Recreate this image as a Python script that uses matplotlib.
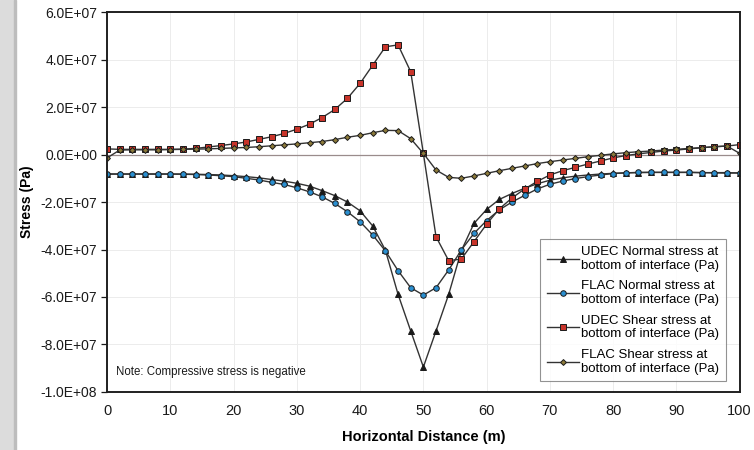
"""Stress along the bottom of the interface: UDEC vs FLAC."""

import numpy as np
import matplotlib
matplotlib.use("Agg")
import matplotlib.pyplot as plt
from matplotlib.patches import Rectangle
from matplotlib.ticker import FuncFormatter, MultipleLocator

plt.rcParams["font.family"] = ["Liberation Sans", "DejaVu Sans"]

# horizontal distance (m), one sample every 2 m
distance = np.arange(0, 101, 2)

# stresses in units of 1e7 Pa
udec_normal = [
    -0.82, -0.82, -0.82, -0.82, -0.82, -0.82, -0.82, -0.83, -0.84, -0.86,
    -0.89, -0.93, -0.98, -1.05, -1.12, -1.21, -1.33, -1.52, -1.73, -2.00,
    -2.37, -3.01, -4.03, -5.89, -7.43, -8.95, -7.43, -5.89, -4.05, -2.90,
    -2.31, -1.89, -1.64, -1.42, -1.23, -1.08, -0.98, -0.91, -0.86, -0.82,
    -0.79, -0.77, -0.76, -0.75, -0.75, -0.75, -0.75, -0.76, -0.76, -0.76,
    -0.78,
]
flac_normal = [
    -0.82, -0.82, -0.82, -0.82, -0.82, -0.82, -0.83, -0.84, -0.86, -0.89,
    -0.93, -1.00, -1.07, -1.17, -1.26, -1.40, -1.57, -1.78, -2.06, -2.41,
    -2.83, -3.39, -4.06, -4.89, -5.61, -5.92, -5.61, -4.86, -4.02, -3.32,
    -2.78, -2.33, -2.00, -1.72, -1.45, -1.25, -1.12, -1.01, -0.93, -0.86,
    -0.80, -0.77, -0.75, -0.75, -0.75, -0.75, -0.75, -0.76, -0.77, -0.78,
    -0.77,
]
udec_shear = [
    0.24, 0.22, 0.22, 0.22, 0.22, 0.22, 0.23, 0.26, 0.32, 0.38,
    0.45, 0.53, 0.64, 0.75, 0.89, 1.07, 1.28, 1.56, 1.90, 2.37,
    3.00, 3.77, 4.54, 4.62, 3.49, 0.05, -3.46, -4.47, -4.40, -3.67,
    -2.93, -2.29, -1.83, -1.45, -1.13, -0.86, -0.68, -0.54, -0.40, -0.27,
    -0.14, -0.04, 0.03, 0.09, 0.15, 0.19, 0.24, 0.29, 0.33, 0.36,
    0.42,
]
flac_shear = [
    -0.14, 0.19, 0.20, 0.20, 0.20, 0.21, 0.22, 0.23, 0.24, 0.26,
    0.28, 0.30, 0.33, 0.37, 0.41, 0.45, 0.50, 0.55, 0.63, 0.73,
    0.81, 0.92, 1.02, 1.01, 0.67, 0.05, -0.65, -0.96, -1.00, -0.90,
    -0.79, -0.68, -0.58, -0.48, -0.38, -0.30, -0.23, -0.16, -0.09, -0.03,
    0.03, 0.08, 0.12, 0.15, 0.19, 0.22, 0.26, 0.29, 0.33, 0.36,
    0.05,
]

labels = [
    "UDEC Normal stress at\nbottom of interface (Pa)",
    "FLAC Normal stress at\nbottom of interface (Pa)",
    "UDEC Shear stress at\nbottom of interface (Pa)",
    "FLAC Shear stress at\nbottom of interface (Pa)",
]

fig = plt.figure(figsize=(7.54, 4.5), dpi=100)
# scanned page edge on the left
fig.patches.append(Rectangle((0, 0), 0.018, 1, transform=fig.transFigure,
                             color="#dcdcdc", zorder=0))
fig.patches.append(Rectangle((0.018, 0), 0.003, 1, transform=fig.transFigure,
                             color="#bdbdbd", zorder=0))

ax = fig.add_axes([0.142, 0.129, 0.839, 0.844])

line_kw = dict(color="#333333", lw=1.0, markeredgecolor="#1a1a1a",
               markeredgewidth=0.7)
scale = 1e7
ax.plot(distance, np.array(udec_normal) * scale, marker="^", ms=4.0,
        markerfacecolor="#1a1a1a", label=labels[0], **line_kw)
ax.plot(distance, np.array(flac_normal) * scale, marker="o", ms=4.0,
        markerfacecolor="#2a8fd0", label=labels[1], **line_kw)
ax.plot(distance, np.array(udec_shear) * scale, marker="s", ms=4.3,
        markerfacecolor="#c8342a", label=labels[2], **line_kw)
ax.plot(distance, np.array(flac_shear) * scale, marker="D", ms=3.0,
        markerfacecolor="#8c7a3a", label=labels[3], **line_kw)

ax.axhline(0, color="#9a8c8c", lw=0.9, zorder=1)

ax.set_xlim(0, 100)
ax.set_ylim(-1e8, 6e7)
ax.xaxis.set_major_locator(MultipleLocator(10))
ax.yaxis.set_major_locator(MultipleLocator(2e7))
ax.yaxis.set_major_formatter(FuncFormatter(lambda v, p: f"{v:.1E}"))
ax.grid(True, color="#ececec", lw=0.7)
ax.set_axisbelow(True)

ax.tick_params(axis="x", length=0, pad=9, labelsize=10.5, colors="#1a1a1a")
ax.tick_params(axis="y", length=4, width=0.9, pad=3, labelsize=10,
               colors="#1a1a1a")
for s in ax.spines.values():
    s.set_linewidth(1.4)
    s.set_color("#202020")

ax.set_xlabel("Horizontal Distance (m)", fontsize=10.5, fontweight="bold",
              labelpad=8)
ax.set_ylabel("Stress (Pa)", fontsize=10, fontweight="bold", labelpad=5)

ax.text(0.014, 0.045, "Note: Compressive stress is negative",
        transform=ax.transAxes, fontsize=8.3, color="#1a1a1a")

leg = ax.legend(loc="lower right", bbox_to_anchor=(0.978, 0.028),
                fontsize=9.5, frameon=True, fancybox=False,
                handlelength=2.4, handletextpad=0.2, labelspacing=0.65,
                borderpad=0.5, borderaxespad=0)
leg.get_frame().set_edgecolor("#777777")
leg.get_frame().set_linewidth(0.8)

fig.savefig("out.png", dpi=100)
